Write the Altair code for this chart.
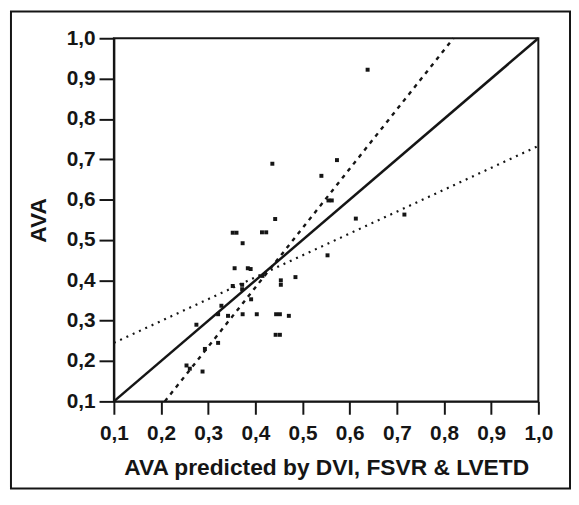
import altair as alt
import pandas as pd

# Scatter points
xs = [0.638, 0.436, 0.573, 0.540, 0.555, 0.562, 0.613, 0.716, 0.442, 0.352, 0.360,
      0.414, 0.423, 0.373, 0.553, 0.356, 0.384, 0.390, 0.415, 0.485, 0.454, 0.454,
      0.372, 0.372, 0.352, 0.391, 0.328, 0.321, 0.342, 0.373, 0.403, 0.444, 0.452,
      0.471, 0.275, 0.443, 0.452, 0.321, 0.293, 0.254, 0.288, 0.261]
ys = [0.922, 0.689, 0.698, 0.659, 0.598, 0.598, 0.553, 0.563, 0.552, 0.518, 0.518,
      0.519, 0.519, 0.492, 0.462, 0.430, 0.430, 0.428, 0.411, 0.408, 0.400, 0.389,
      0.389, 0.378, 0.386, 0.353, 0.337, 0.316, 0.312, 0.316, 0.316, 0.316, 0.316,
      0.312, 0.290, 0.265, 0.265, 0.245, 0.230, 0.189, 0.174, 0.181]

# Lines: identity, steep regression (dashed), shallow regression (dotted)
ident_x = [0.1, 1.0]
ident_y = [0.1, 1.0]
dash_x = [0.208, 0.82]
dash_y = [0.1, 1.0]
dot_x = [0.1, 1.0]
dot_y = [0.245, 0.733]

ticks = [0.1, 0.2, 0.3, 0.4, 0.5, 0.6, 0.7, 0.8, 0.9, 1.0]

pts = pd.DataFrame({"x": xs, "y": ys})
ident = pd.DataFrame({"x": ident_x, "y": ident_y})
dash = pd.DataFrame({"x": dash_x, "y": dash_y})
dot = pd.DataFrame({"x": dot_x, "y": dot_y})

FONT = "Liberation Sans"
INK = "#151515"
label_expr = "replace(format(datum.value, '.1f'), '.', ',')"

xscale = alt.Scale(domain=[0.1, 1.0], nice=False, zero=False)
yscale = alt.Scale(domain=[0.1, 1.0], nice=False, zero=False)

xaxis = alt.Axis(values=ticks, labelExpr=label_expr, grid=False, tickSize=13,
                 tickWidth=2, domainWidth=2, domainColor=INK, tickColor=INK,
                 labelFont=FONT, labelFontSize=21, labelFontWeight="bold",
                 labelColor=INK, labelPadding=9, labelFlush=False,
                 labelOverlap=False, labelBound=False,
                 title="AVA predicted by DVI, FSVR & LVETD", titleFont=FONT,
                 titleFontSize=23, titleFontWeight="bold", titleColor=INK,
                 titlePadding=13)
yaxis = alt.Axis(values=ticks, labelExpr=label_expr, grid=False, tickSize=15,
                 tickWidth=2, domainWidth=2, domainColor=INK, tickColor=INK,
                 labelFont=FONT, labelFontSize=21, labelFontWeight="bold",
                 labelColor=INK, labelPadding=4, labelFlush=False,
                 labelOverlap=False, labelBound=False,
                 title="AVA", titleFont=FONT, titleFontSize=23,
                 titleFontWeight="bold", titleColor=INK, titlePadding=16)

points = alt.Chart(pts).mark_point(shape="square", filled=True, size=16,
                                   color=INK, opacity=1).encode(
    x=alt.X("x:Q", scale=xscale, axis=xaxis),
    y=alt.Y("y:Q", scale=yscale, axis=yaxis),
)

l_ident = alt.Chart(ident).mark_line(color=INK, strokeWidth=2.5).encode(
    x=alt.X("x:Q", scale=xscale), y=alt.Y("y:Q", scale=yscale))
l_dash = alt.Chart(dash).mark_line(color=INK, strokeWidth=2.4,
                                   strokeDash=[4, 5]).encode(
    x=alt.X("x:Q", scale=xscale), y=alt.Y("y:Q", scale=yscale))
l_dot = alt.Chart(dot).mark_line(color=INK, strokeWidth=2.2,
                                 strokeDash=[2, 5]).encode(
    x=alt.X("x:Q", scale=xscale), y=alt.Y("y:Q", scale=yscale))

frame = alt.Chart(pd.DataFrame({"a": [0]})).mark_rect(
    fill="transparent", stroke=INK, strokeWidth=2).encode(
    x=alt.value(-104), x2=alt.value(461), y=alt.value(-27), y2=alt.value(455))

chart = alt.layer(frame, l_dot, l_dash, l_ident, points).properties(
    width=429, height=367,
    autosize=alt.AutoSizeParams(type="none"),
    padding={"left": 107, "top": 28, "right": 33, "bottom": 88},
    background="white",
).configure_view(stroke=INK, strokeWidth=2)

chart.save("out.html", embed_options={"renderer": "svg", "actions": False})
